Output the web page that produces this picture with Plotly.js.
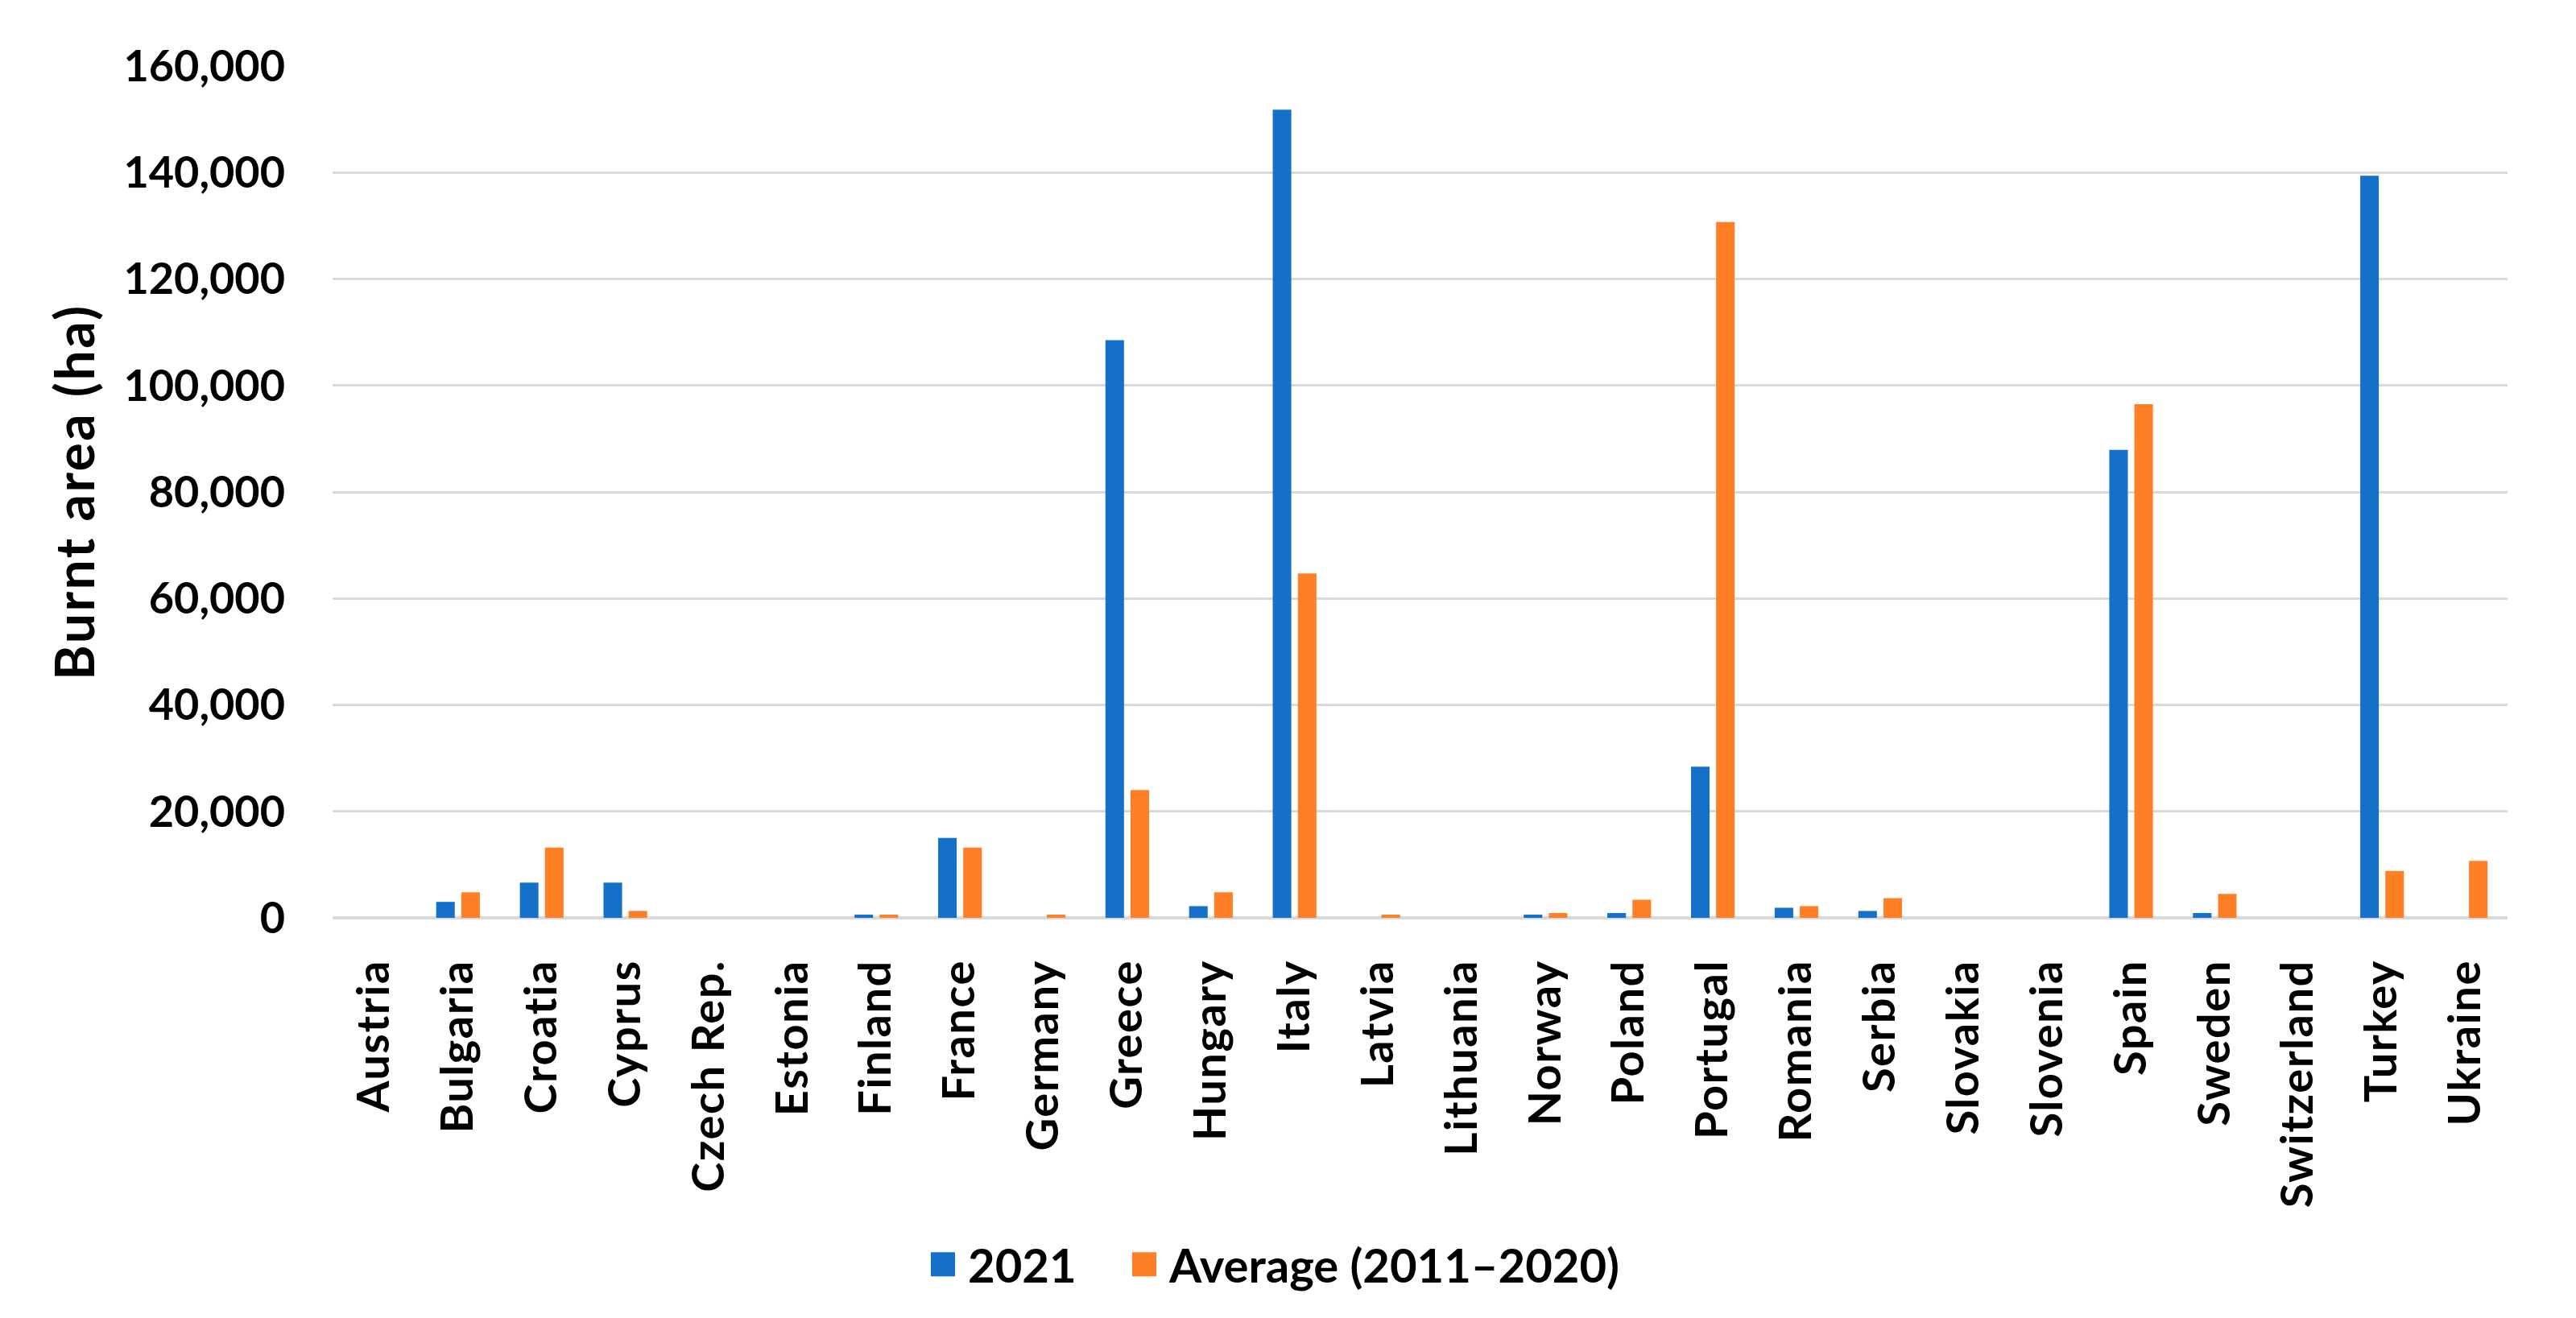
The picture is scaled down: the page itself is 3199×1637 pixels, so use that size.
<!DOCTYPE html>
<html>
<head>
<meta charset="utf-8">
<script src="https://cdn.plot.ly/plotly-3.0.1.min.js"></script>
<style>
html,body{margin:0;padding:0;background:#fff;}
#chart{width:3199px;height:1637px;}
.xtick text{letter-spacing:1.5px;}
.ytitle{letter-spacing:2.5px;}
</style>
</head>
<body>
<div id="chart"></div>
<script>
const countries = ["Austria","Bulgaria","Croatia","Cyprus","Czech Rep.","Estonia","Finland","France","Germany","Greece","Hungary","Italy","Latvia","Lithuania","Norway","Poland","Portugal","Romania","Serbia","Slovakia","Slovenia","Spain","Sweden","Switzerland","Turkey","Ukraine"];
const burnt2021 = [0,3000,6600,6600,0,0,600,15000,0,108500,2200,151800,0,0,600,900,28400,1900,1300,0,0,87900,900,0,139400,0];
const average2011_2020 = [0,4800,13200,1300,0,0,600,13200,600,24000,4800,64700,600,0,900,3400,130700,2200,3700,0,0,96500,4500,0,8800,10700];
const yTickVals = [0,20000,40000,60000,80000,100000,120000,140000,160000];
const yTickText = ["0","20,000","40,000","60,000","80,000","100,000","120,000","140,000","160,000"];
const seriesNames = ["2021\u00A0\u00A0\u00A0\u00A0\u00A0","Average (2011\u20132020)"];

const FONT = "Lato, 'Liberation Sans', sans-serif";
const traces = [
  {type:"bar", x:countries, y:burnt2021, name:seriesNames[0], marker:{color:"#1570CA"}},
  {type:"bar", x:countries, y:average2011_2020, name:seriesNames[1], marker:{color:"#FF7F27"}}
];
const layout = {
  width:3199, height:1637,
  margin:{l:413, r:85, t:82, b:497, autoexpand:false},
  paper_bgcolor:"#fff", plot_bgcolor:"#fff",
  barmode:"group", bargap:0.40, bargroupgap:0.26,
  font:{family:FONT, color:"#000", size:52, weight:"bold"},
  showlegend:true,
  legend:{orientation:"h", x:0.2773, xanchor:"left", y:-0.407, yanchor:"middle",
          font:{family:FONT, size:58, color:"#000", weight:"bold"}, itemwidth:30, tracegroupgap:0},
  xaxis:{type:"category", tickmode:"array", tickvals:countries, ticktext:countries, tickangle:-90,
         showgrid:false, ticks:"", showline:false, zeroline:false,
         tickfont:{family:FONT, size:56, color:"#000", weight:"bold"}, ticklabelstandoff:40, automargin:false},
  yaxis:{range:[0,160000], tickvals:yTickVals, ticktext:yTickText, showgrid:true, gridcolor:"#D9D9D9", gridwidth:3,
         zeroline:true, zerolinecolor:"#D9D9D9", zerolinewidth:4, showline:false, ticks:"",
         tickfont:{family:FONT, size:54, color:"#000", weight:"bold"}, ticklabelstandoff:58, automargin:false,
         title:{text:"Burnt area (ha)", font:{family:FONT, size:66, color:"#000", weight:"bold"}, standoff:14}}
};
Plotly.newPlot("chart", traces, layout, {displayModeBar:false, staticPlot:true}).then(function(gd){
  gd.querySelectorAll('.legend [clip-path]').forEach(function(e){ e.removeAttribute('clip-path'); });
  gd.querySelectorAll('.legend .legendpoints path').forEach(function(p){
    p.setAttribute('transform', 'translate(9,0) scale(2.5)');
  });
});
</script>
</body>
</html>
